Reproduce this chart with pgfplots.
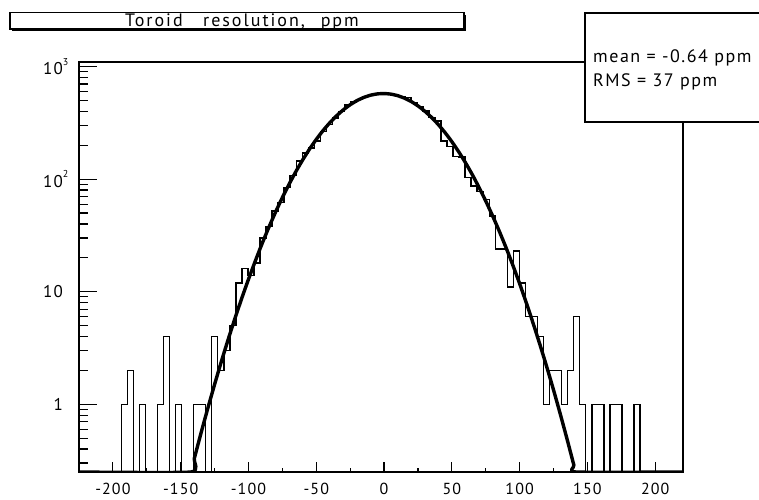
\documentclass[border=0pt]{standalone}
\usepackage{fontspec}
\setmainfont{PT Sans}[LetterSpace=7]
\newfontfamily\boxfont{PT Sans}[LetterSpace=11]
\newfontfamily\statfont{PT Sans}[LetterSpace=8.5]
\usepackage{pgfplots}
\pgfplotsset{compat=1.18}
\usepackage{pgfplotstable}

% histogram: left bin edge, content (empty bins drawn at the frame bottom, 0.25)
\pgfplotstableread{
x y
-225 0.25
-220.55 0.25
-216.1 0.25
-211.65 0.25
-207.2 0.25
-202.75 0.25
-198.3 0.25
-193.85 1
-189.4 2
-184.95 0.25
-180.5 1
-176.05 0.25
-171.6 0.25
-167.15 1
-162.7 4
-158.25 0.25
-153.8 1
-149.35 0.25
-144.9 0.25
-140.45 1
-136 1
-131.55 0.25
-127.1 4
-122.65 2
-118.2 3
-113.75 5
-109.3 12
-104.85 16
-100.4 14
-95.95 18
-91.5 30
-87.05 38
-82.6 52
-78.15 62
-73.7 84
-69.25 108
-64.8 145
-60.35 171
-55.9 190
-51.45 218
-47 265
-42.55 307
-38.1 351
-33.65 400
-29.2 455
-24.75 485
-20.3 513
-15.85 545
-11.4 565
-6.95 575
-2.5 579
1.95 575
6.4 560
10.85 545
15.3 530
19.75 478
24.2 440
28.65 403
33.1 355
37.55 328
42 218
46.45 195
50.9 160
55.35 158
59.8 103
64.25 87
68.7 78
73.15 66
77.6 47
82.05 24
86.5 24
90.95 11
95.4 23
99.85 12
104.3 6
108.75 6
113.2 4
117.65 1
122.1 2
126.55 2
131 1
135.45 2
139.9 6
144.35 1
148.8 0.25
153.25 1
157.7 1
162.15 0.25
166.6 1
171.05 1
175.5 0.25
179.95 0.25
184.4 1
188.85 0.25
193.3 0.25
197.75 0.25
202.2 0.25
206.65 0.25
211.1 0.25
215.55 0.25
220 0.25
}\histtable

% gaussian fit curve (values below the frame drawn along the bottom, 0.25)
\pgfplotstableread{
x y
-225 0.25
-142.5 0.25
-140 0.328
-135 0.555
-130 0.921
-125 1.50
-120 2.40
-115 3.76
-110 5.78
-105 8.72
-100 12.9
-95 18.7
-90 26.7
-85 37.3
-80 51.1
-75 68.7
-70 90.5
-65 117.1
-60 148.6
-55 184.9
-50 225.7
-45 270.3
-40 317.6
-35 366.1
-30 413.8
-25 458.9
-20 499.2
-15 532.7
-10 557.7
-5 572.7
0 576.9
5 570.1
10 552.6
15 525.4
20 490.1
25 448.4
30 402.5
35 354.4
40 306.1
45 259.3
50 215.5
55 175.7
60 140.6
65 110.3
70 84.8
75 64.0
80 47.4
85 34.5
90 24.6
95 17.2
100 11.8
105 7.92
110 5.22
115 3.38
120 2.15
125 1.34
130 0.817
135 0.489
140 0.288
141.5 0.25
220 0.25
}\fittable

\begin{document}
\begin{tikzpicture}[x=1pt,y=1pt]
\path[use as bounding box] (0,0) rectangle (759,499);
\clip (0,0) rectangle (759,499);
% x ticks + data
\begin{axis}[
  at={(79pt,27pt)}, anchor=south west,
  scale only axis, width=604pt, height=410pt,
  xmin=-225, xmax=220.5, ymode=log, ymin=0.25, ymax=1100,
  axis line style={line width=1.5pt},
  tick align=inside, tick pos=left,
  tick style={black, line width=1.2pt},
  tick label style={font=\fontsize{16}{18}\selectfont},
  ytick=\empty, minor ytick={},
  xtick={-200,-150,-100,-50,0,50,100,150,200},
  xticklabels={-200,-150,-100,-50,0,50,100,150,200},
  minor xtick={-175,-125,-75,-25,25,75,125,175},
  major tick length=10pt, minor tick length=4pt,
  xticklabel style={inner sep=0pt, anchor=north, yshift=-11pt},
]
\addplot[const plot mark left, black, line width=1.4pt] table[x=x,y=y]{\histtable};
\addplot[black, line width=3.4pt, line join=round, smooth, tension=0.3] table[x=x,y=y]{\fittable};
\end{axis}
% y ticks
\begin{axis}[
  at={(79pt,27pt)}, anchor=south west,
  scale only axis, width=604pt, height=410pt,
  xmin=-225, xmax=220.5, ymode=log, ymin=0.25, ymax=1100,
  axis line style={line width=1.5pt},
  tick align=inside, tick pos=left,
  tick style={black, line width=1.2pt},
  tick label style={font=\fontsize{17}{20}\selectfont},
  xtick=\empty, minor xtick={},
  ytick={1,10,100,1000},
  yticklabels={1,10,10\rlap{\raisebox{1.1ex}{\fontsize{10}{10}\selectfont 2}},10\rlap{\raisebox{1.1ex}{\fontsize{10}{10}\selectfont 3}}},
  minor ytick={0.3,0.4,0.5,0.6,0.7,0.8,0.9,2,3,4,5,6,7,8,9,20,30,40,50,60,70,80,90,200,300,400,500,600,700,800,900},
  major tick length=18pt, minor tick length=9pt,
  yticklabel style={inner sep=0pt, anchor=east, xshift=-16pt},
]
\addplot[draw=none] table[x=x,y=y]{\histtable};
\end{axis}
% title box
\fill[black] (12,468.3) rectangle (466,484.3);
\draw[fill=white, line width=1.2pt] (10,470) rectangle (464,486.3);
\node[font=\boxfont\fontsize{18}{20}\selectfont, inner sep=0pt, anchor=base west] at (125,472.5) {Toroid};
\node[font=\boxfont\fontsize{18}{20}\selectfont, inner sep=0pt, anchor=base west] at (203,472.5) {resolution,};
\node[font=\boxfont\fontsize{18}{20}\selectfont, inner sep=0pt, anchor=base east] at (359,472.5) {ppm};
% stats box
\draw[fill=white, line width=1.7pt] (585,377.3) rectangle (800,486.3);
\node[font=\statfont\fontsize{18}{20}\selectfont, anchor=base west, inner sep=0pt] at (593,436) {mean = -0.64 ppm};
\node[font=\statfont\fontsize{18}{20}\selectfont, anchor=base west, inner sep=0pt] at (593,412) {RMS = 37 ppm};
\end{tikzpicture}
\end{document}
